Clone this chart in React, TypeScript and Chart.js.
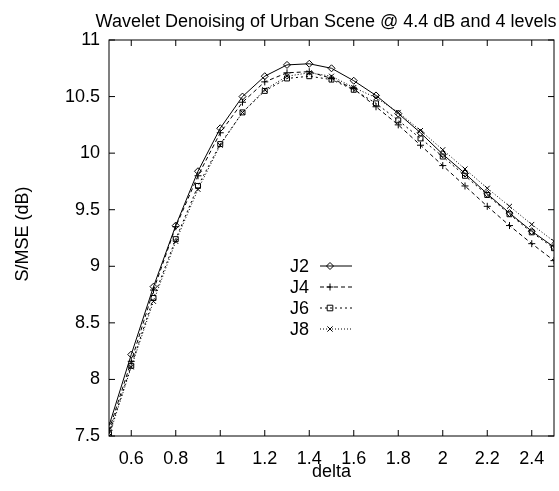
import React, { useEffect, useRef } from "react";
import { Chart, registerables } from "chart.js";

Chart.register(...registerables);

const TITLE = "Wavelet Denoising of Urban Scene @ 4.4 dB and 4 levels";
const X_LABEL = "delta";
const Y_LABEL = "S/MSE (dB)";

const deltas = [0.5, 0.6, 0.7, 0.8, 0.9, 1.0, 1.1, 1.2, 1.3, 1.4, 1.5, 1.6, 1.7, 1.8, 1.9, 2.0, 2.1, 2.2, 2.3, 2.4, 2.5];
const seriesNames = ["J2", "J4", "J6", "J8"];
const j2 = [7.59, 8.22, 8.82, 9.36, 9.84, 10.22, 10.5, 10.68, 10.78, 10.79, 10.75, 10.64, 10.51, 10.35, 10.18, 9.99, 9.82, 9.64, 9.47, 9.31, 9.17];
const j4 = [7.55, 8.16, 8.79, 9.35, 9.8, 10.18, 10.45, 10.63, 10.71, 10.72, 10.66, 10.57, 10.41, 10.25, 10.07, 9.89, 9.71, 9.53, 9.36, 9.2, 9.05];
const j6 = [7.52, 8.12, 8.72, 9.24, 9.71, 10.08, 10.36, 10.55, 10.66, 10.68, 10.65, 10.56, 10.44, 10.29, 10.13, 9.97, 9.8, 9.63, 9.46, 9.3, 9.16];
const j8 = [7.5, 8.11, 8.69, 9.22, 9.68, 10.07, 10.36, 10.56, 10.68, 10.71, 10.68, 10.58, 10.49, 10.36, 10.2, 10.03, 9.86, 9.69, 9.53, 9.37, 9.22];
const xTicks = [0.6, 0.8, 1, 1.2, 1.4, 1.6, 1.8, 2, 2.2, 2.4];
const yTicks = [7.5, 8, 8.5, 9, 9.5, 10, 10.5, 11];
const X_MIN = 0.5;
const X_MAX = 2.5;
const Y_MIN = 7.5;
const Y_MAX = 11;

const seriesValues = [j2, j4, j6, j8];
const pointStyles = ["rectRot", "cross", "rect", "crossRot"];
const dashes = [[], [4, 3], [2, 3], [1, 2]];

const FONT = "18px 'Liberation Sans', Arial, sans-serif";

function drawMarker(ctx: CanvasRenderingContext2D, style: string, x: number, y: number, r: number) {
  ctx.beginPath();
  if (style === "rectRot") {
    ctx.moveTo(x, y - r);
    ctx.lineTo(x + r, y);
    ctx.lineTo(x, y + r);
    ctx.lineTo(x - r, y);
    ctx.closePath();
  } else if (style === "cross") {
    ctx.moveTo(x - r, y);
    ctx.lineTo(x + r, y);
    ctx.moveTo(x, y - r);
    ctx.lineTo(x, y + r);
  } else if (style === "rect") {
    const s = r * 0.8;
    ctx.rect(x - s, y - s, 2 * s, 2 * s);
  } else {
    const s = r * 0.75;
    ctx.moveTo(x - s, y - s);
    ctx.lineTo(x + s, y + s);
    ctx.moveTo(x + s, y - s);
    ctx.lineTo(x - s, y + s);
  }
  ctx.stroke();
}

const framePlugin = {
  id: "gnuplotFrame",
  afterDraw(chart: any) {
    const { ctx, chartArea } = chart;
    const { left, right, top, bottom } = chartArea;
    const xs = chart.scales.x;
    const ys = chart.scales.y;
    ctx.save();
    ctx.strokeStyle = "#000";
    ctx.lineWidth = 1;
    ctx.setLineDash([]);
    ctx.strokeRect(left, top, right - left, bottom - top);
    const tl = 6;
    ctx.beginPath();
    for (const t of xTicks) {
      const px = xs.getPixelForValue(t);
      ctx.moveTo(px, bottom);
      ctx.lineTo(px, bottom - tl);
      ctx.moveTo(px, top);
      ctx.lineTo(px, top + tl);
    }
    for (const t of yTicks) {
      const py = ys.getPixelForValue(t);
      ctx.moveTo(left, py);
      ctx.lineTo(left + tl, py);
      ctx.moveTo(right, py);
      ctx.lineTo(right - tl, py);
    }
    ctx.stroke();

    ctx.fillStyle = "#000";
    ctx.font = FONT;
    ctx.textBaseline = "alphabetic";
    ctx.textAlign = "center";
    ctx.fillText(TITLE, 326, 27);
    ctx.fillText(X_LABEL, (left + right) / 2, 477);
    ctx.save();
    ctx.translate(28, 234);
    ctx.rotate(-Math.PI / 2);
    ctx.fillText(Y_LABEL, 0, 0);
    ctx.restore();

    // legend
    const rowY = [266, 287, 308, 329];
    seriesNames.forEach((name, i) => {
      const y = rowY[i];
      ctx.textAlign = "right";
      ctx.textBaseline = "middle";
      ctx.fillText(name, 309, y + 1);
      ctx.setLineDash(dashes[i]);
      ctx.beginPath();
      ctx.moveTo(320, y);
      ctx.lineTo(352, y);
      ctx.stroke();
      ctx.setLineDash([]);
      drawMarker(ctx, pointStyles[i], 330, y, 3.5);
    });
    ctx.restore();
  },
};

export default function App() {
  const ref = useRef<HTMLCanvasElement | null>(null);
  useEffect(() => {
    document.body.style.margin = "0";
    Chart.defaults.font.family = "'Liberation Sans', Arial, sans-serif";
    Chart.defaults.font.size = 18;
    Chart.defaults.color = "#000";
    const datasets = seriesNames.map((name, i) => ({
      label: name,
      data: deltas.map((d, k) => ({ x: d, y: seriesValues[i][k] })),
      borderColor: "#000",
      borderWidth: 1,
      borderDash: dashes[i],
      pointStyle: pointStyles[i],
      pointRadius: 3.5,
      pointBorderWidth: 1,
      pointBorderColor: "#000",
      pointBackgroundColor: "rgba(0,0,0,0)",
      fill: false,
      tension: 0,
    }));
    const chart = new Chart(ref.current as HTMLCanvasElement, {
      type: "line",
      data: { datasets },
      options: {
        animation: false,
        responsive: false,
        maintainAspectRatio: false,
        layout: { padding: { top: 40, right: 5, left: 0, bottom: 0 } },
        plugins: { legend: { display: false }, title: { display: false }, tooltip: { enabled: false } },
        scales: {
          x: {
            type: "linear",
            min: X_MIN,
            max: X_MAX,
            grid: { display: false, drawTicks: false },
            border: { display: false },
            afterBuildTicks: (s: any) => {
              s.ticks = xTicks.map((v) => ({ value: v }));
            },
            afterFit: (s: any) => {
              s.height = 55;
            },
            ticks: {
              padding: 12,
              maxRotation: 0,
              autoSkip: false,
              callback: (v: any) => String(parseFloat(Number(v).toFixed(2))),
            },
          },
          y: {
            type: "linear",
            min: Y_MIN,
            max: Y_MAX,
            grid: { display: false, drawTicks: false },
            border: { display: false },
            afterBuildTicks: (s: any) => {
              s.ticks = yTicks.map((v) => ({ value: v }));
            },
            afterFit: (s: any) => {
              s.width = 109;
            },
            ticks: {
              padding: 9,
              autoSkip: false,
              callback: (v: any) => String(parseFloat(Number(v).toFixed(2))),
            },
          },
        },
      },
      plugins: [framePlugin],
    } as any);
    return () => chart.destroy();
  }, []);
  return <canvas ref={ref} width={559} height={491} style={{ display: "block" }} />;
}
